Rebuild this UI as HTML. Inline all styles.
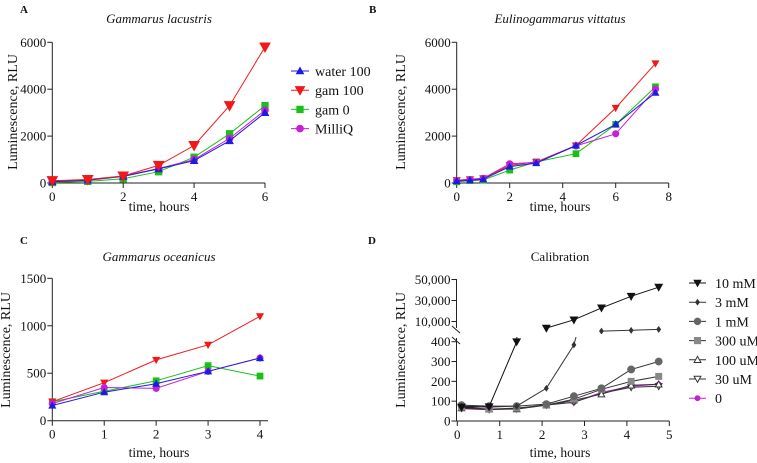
<!DOCTYPE html>
<html><head><meta charset="utf-8"><style>
html,body{margin:0;padding:0;background:#fff;}
svg{display:block;font-family:"Liberation Serif",serif;}
svg text{font-family:"Liberation Serif",serif;}
</style></head><body>
<svg id="chart" width="757" height="463" viewBox="0 0 757 463" xmlns="http://www.w3.org/2000/svg"></svg>
<script>
// ---- Panel A data (Gammarus lacustris)
const timesA = [0,1,2,3,4,5,6];
const waterA = [50,120,280,600,950,1800,3000];
const gam100A = [100,150,300,750,1600,3300,5800];
const gam0A = [20,70,180,480,1100,2100,3300];
const milliqA = [60,130,300,620,1000,1900,3100];
// ---- Panel B data (Eulinogammarus vittatus)
const timesB = [0,0.5,1,2,3,4.5,6,7.5];
const waterB = [80,120,160,700,850,1600,2500,3850];
const gam100B = [120,160,200,750,900,1600,3200,5100];
const gam0B = [50,100,130,550,900,1250,2500,4100];
const milliqB = [100,150,200,820,880,1580,2100,4000];
// ---- Panel C data (Gammarus oceanicus)
const timesC = [0,1,2,3,4];
const waterC = [160,300,390,520,660];
const gam100C = [200,400,640,800,1100];
const gam0C = [200,310,420,580,470];
const milliqC = [180,350,340,520,660];
// ---- Panel D data (Calibration)
const timesD = [0.1,0.75,1.4,2.1,2.75,3.4,4.1,4.75];
const cal10mM = [70,72,400,3700,11600,23000,34000,42700];
const cal3mM = [75,70,75,165,384,900,1600,2500];
const cal1mM = [80,75,75,85,125,165,260,300];
const cal300uM = [70,60,65,80,110,160,200,225];
const cal100uM = [65,60,60,80,105,135,180,185];
const cal30uM = [65,58,62,80,95,140,170,175];
const cal0 = [62,57,62,83,95,145,175,185];
const ticksA = [0,2000,4000,6000];
const ticksC = [0,500,1000,1500];
const ticksDlow = [0,100,200,300,400];
const ticksDup = [10000,30000,50000];
const ticksDupLabels = ["10,000","30,000","50,000"];

const NS="http://www.w3.org/2000/svg";
const svg=document.getElementById('chart');
function mk(tag,attrs,parent){const e=document.createElementNS(NS,tag);for(const k in attrs)e.setAttribute(k,attrs[k]);(parent||svg).appendChild(e);return e;}
function txt(s,x,y,attrs,parent){const e=mk('text',Object.assign({x:x,y:y,'font-size':13,fill:'#111','font-family':'"Liberation Serif", serif'},attrs||{}),parent);e.textContent=s;return e;}
function scale(d0,d1,r0,r1){return v=>r0+(v-d0)/(d1-d0)*(r1-r0);}

function marker(g,type,x,y,color,stroke,size){
  const s=size||4;let e;
  if(type==='up') e=mk('path',{d:`M${x},${y-s} L${x+s},${y+s*0.8} L${x-s},${y+s*0.8} Z`,fill:color,stroke:stroke||color},g);
  else if(type==='down') e=mk('path',{d:`M${x},${y+s} L${x+s},${y-s*0.8} L${x-s},${y-s*0.8} Z`,fill:color,stroke:stroke||color},g);
  else if(type==='square') e=mk('rect',{x:x-s*0.9,y:y-s*0.9,width:s*1.8,height:s*1.8,fill:color,stroke:stroke||color},g);
  else if(type==='circle') e=mk('circle',{cx:x,cy:y,r:s*0.95,fill:color,stroke:stroke||color},g);
  else if(type==='diamond') e=mk('path',{d:`M${x},${y-s} L${x+s*0.7},${y} L${x},${y+s} L${x-s*0.7},${y} Z`,fill:color,stroke:stroke||color},g);
  else if(type==='upOpen') e=mk('path',{d:`M${x},${y-s} L${x+s},${y+s*0.8} L${x-s},${y+s*0.8} Z`,fill:'#fff',stroke:color},g);
  else if(type==='downOpen') e=mk('path',{d:`M${x},${y+s} L${x+s},${y-s*0.8} L${x-s},${y-s*0.8} Z`,fill:'#fff',stroke:color},g);
  return e;
}
function series(g,xs,ys,sx,sy,color,type,name,mcolor,mstroke,size){
  const sg=mk('g',{},g);
  
  
  const pts=xs.map((x,i)=>sx(x).toFixed(1)+','+sy(ys[i]).toFixed(1)).join(' ');
  const pl=mk('polyline',{points:pts,fill:'none',stroke:color,'stroke-width':1},sg);
  
  
  xs.forEach((x,i)=>{const m=marker(sg,type,sx(x),sy(ys[i]),mcolor||color,mstroke,size);
    
    });
}
function axes(g,x0,x1,y0,y1,xticks,sx,yticks,ylabels,sy,xEnd){
  const ax=mk('g',{},g);
  
  
  mk('line',{x1:x0,y1:y0,x2:xEnd||x1,y2:y0,stroke:'#222'},ax);
  mk('line',{x1:x0,y1:y0,x2:x0,y2:y1,stroke:'#222'},ax);
  xticks.forEach(t=>{const x=sx(t);mk('line',{x1:x,y1:y0,x2:x,y2:y0+5,stroke:'#222'},ax);
    const l=txt(String(t),x,y0+18,{'text-anchor':'middle'},ax);
    
    });
  yticks.forEach((t,i)=>{const y=sy(t);mk('line',{x1:x0-5,y1:y,x2:x0,y2:y,stroke:'#222'},ax);
    const l=txt(ylabels[i],x0-6,y+4.5,{'text-anchor':'end'},ax);
    
    });
}
function labels(g,letter,lx,ly,title,tx,ty,italic,ylx,yly,xtx,xty){
  const a=txt(letter,lx,ly,{'font-weight':'bold','font-size':11},g);
  
  
  const t=txt(title,tx,ty,{'text-anchor':'middle','font-style':italic?'italic':'normal'},g);
  
  
  const yl=txt('Luminescence, RLU',0,0,{'text-anchor':'middle',transform:`translate(${ylx},${yly}) rotate(-90)`,'font-size':14},g);
  
  
  const xl=txt('time, hours',xtx,xty,{'text-anchor':'middle','font-size':13.5},g);
  
  
}
const BLUE='#1c1ce0',RED='#f01818',GREEN='#18c018',MAG='#c81ed8';

// Panel A
const gA=mk('g',{});
{const sx=scale(0,6,52.3,265),sy=scale(0,6000,183,42.3);
 axes(gA,52.3,265,183,42.3,[0,2,4,6],sx,ticksA,ticksA.map(String),sy);
 labels(gA,'A',20,13,'Gammarus lacustris',159,23,true,17,112,159,211);
 series(gA,timesA,gam0A,sx,sy,GREEN,'square','series-gam-0',null,null,3.5);
 series(gA,timesA,milliqA,sx,sy,MAG,'circle','series-milliq',null,null,3.5);
 series(gA,timesA,waterA,sx,sy,BLUE,'up','series-water-100',null,null,3.5);
 series(gA,timesA,gam100A,sx,sy,RED,'down','series-gam-100',null,null,5);
 const leg=[['water 100',BLUE,'up'],['gam 100',RED,'down'],['gam 0',GREEN,'square'],['MilliQ',MAG,'circle']];
 leg.forEach((l,i)=>{const y=71+i*19.2;const lg=mk('g',{},gA);
  
  
  mk('line',{x1:291,y1:y,x2:309,y2:y,stroke:l[1]},lg);marker(lg,l[2],300,y,l[1],null,l[2]==='down'?4.5:3.5);
  txt(l[0],315,y+5,{'font-size':14},lg);});
}
// Panel B
const gB=mk('g',{});
{const sx=scale(0,8,456.7,668.7),sy=scale(0,6000,183,42.3);
 axes(gB,456.7,668.7,183,42.3,[0,2,4,6,8],sx,ticksA,ticksA.map(String),sy);
 labels(gB,'B',369,13,'Eulinogammarus vittatus',560,23,true,405,112,560,211);
 series(gB,timesB,gam0B,sx,sy,GREEN,'square','series-gam-0',null,null,3.2);
 series(gB,timesB,gam100B,sx,sy,RED,'down','series-gam-100',null,null,3.2);
 series(gB,timesB,milliqB,sx,sy,MAG,'circle','series-milliq',null,null,3.2);
 series(gB,timesB,waterB,sx,sy,BLUE,'up','series-water-100',null,null,3.2);
}
// Panel C
const gC=mk('g',{});
{const sx=scale(0,4,52.3,260),sy=scale(0,1500,420.7,278.3);
 axes(gC,52.3,260,420.7,278.3,[0,1,2,3,4],sx,ticksC,ticksC.map(String),sy,268);
 labels(gC,'C',20,244,'Gammarus oceanicus',159,261,true,10,350,159,457);
 series(gC,timesC,gam0C,sx,sy,GREEN,'square','series-gam-0',null,null,3.2);
 series(gC,timesC,gam100C,sx,sy,RED,'down','series-gam-100',null,null,3.2);
 series(gC,timesC,milliqC,sx,sy,MAG,'circle','series-milliq',null,null,3.2);
 series(gC,timesC,waterC,sx,sy,BLUE,'up','series-water-100',null,null,3.2);
}
// Panel D
const gD=mk('g',{});
{const X0=456.5,sx=scale(0,5,457.3,669.3);
 const syL=scale(0,400,421,341.7),syU=scale(500,50000,331.5,279.5);
 const defs=mk('defs',{},gD);
 const c1=mk('clipPath',{id:'clipLow'},defs);mk('rect',{x:440,y:337,width:260,height:95},c1);
 const c2=mk('clipPath',{id:'clipUp'},defs);mk('rect',{x:440,y:270,width:260,height:64},c2);
 const ax=mk('g',{},gD);
 
 
 mk('line',{x1:X0,y1:421,x2:669.3,y2:421,stroke:'#222'},ax);
 mk('line',{x1:X0,y1:421,x2:X0,y2:338,stroke:'#222'},ax);
 mk('line',{x1:X0,y1:328,x2:X0,y2:279,stroke:'#222'},ax);
 mk('line',{x1:452,y1:326,x2:460,y2:333,stroke:'#222'},ax);
 mk('line',{x1:452,y1:337,x2:460,y2:344,stroke:'#222'},ax);
 [0,1,2,3,4,5].forEach(t=>{const x=sx(t);mk('line',{x1:x,y1:421,x2:x,y2:426,stroke:'#222'},ax);
   const l=txt(String(t),x,439,{'text-anchor':'middle'},ax);
   
   });
 ticksDlow.forEach(t=>{const y=syL(t);mk('line',{x1:X0-5,y1:y,x2:X0,y2:y,stroke:'#222'},ax);
   const l=txt(String(t),X0-6,y+4.5,{'text-anchor':'end'},ax);
   
   });
 ticksDup.forEach((t,i)=>{const y=syU(t);mk('line',{x1:X0-5,y1:y,x2:X0,y2:y,stroke:'#222'},ax);
   const l=txt(ticksDupLabels[i],X0-6,y+4.5,{'text-anchor':'end'},ax);
   
   });
 labels(gD,'D',368,244,'Calibration',560,261,false,405,350,560,457);
 const defsS=[[cal0,MAG,'circle','series-0',MAG,MAG,2.6],[cal30uM,'#333','downOpen','series-30um',null,null,3.3],[cal100uM,'#333','upOpen','series-100um',null,null,3.3],
  [cal300uM,'#333','square','series-300um','#888',null,3.3],[cal1mM,'#333','circle','series-1mm','#666',null,3.6],[cal3mM,'#333','diamond','series-3mm','#333',null,2.6],[cal10mM,'#111','down','series-10mm','#111',null,3.6]];
 const low=mk('g',{'clip-path':'url(#clipLow)'},gD);
 const up=mk('g',{'clip-path':'url(#clipUp)'},gD);
 defsS.forEach(d=>{
   series(low,timesD,d[0],sx,syL,d[1],d[2],d[3]+'-low',d[4],d[5],d[6]);
   const ui=timesD.map((t,i)=>i).filter(i=>d[0][i]>=500);
   if(ui.length) series(up,ui.map(i=>timesD[i]),ui.map(i=>d[0][i]),sx,syU,d[1],d[2],d[3]+'-high',d[4],d[5],d[6]);
 });
 const leg=[['10 mM','#111','down','#111'],['3 mM','#333','diamond','#333'],['1 mM','#333','circle','#666'],['300 uM','#333','square','#888'],['100 uM','#333','upOpen','#333'],['30 uM','#333','downOpen','#333'],['0',MAG,'circle',MAG]];
 leg.forEach((l,i)=>{const y=283+i*19.2;const lg=mk('g',{},gD);
  
  
  mk('line',{x1:689,y1:y,x2:706,y2:y,stroke:l[1]},lg);marker(lg,l[2],697.5,y,l[3],l[2]==='circle'&&i==6?MAG:null,l[2]==='diamond'||i==6?2.6:3.4);
  txt(l[0],715,y+5,{'font-size':14},lg);});
}
</script>
</body></html>
